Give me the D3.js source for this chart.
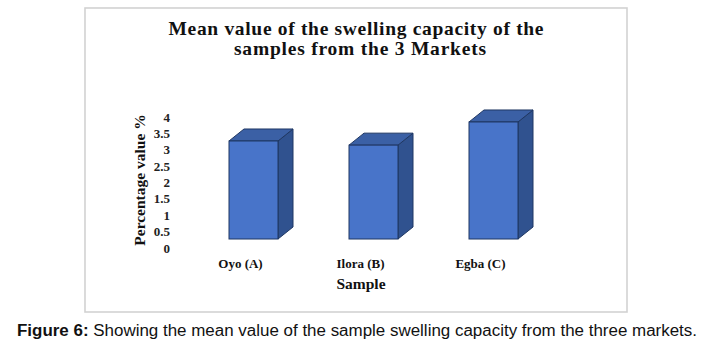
<!DOCTYPE html>
<html>
<head>
<meta charset="utf-8">
<script src="https://cdn.jsdelivr.net/npm/d3@7"></script>
<style>
  body { margin: 0; background: #fff; }
  svg { display: block; }
</style>
</head>
<body>
<div id="vis"></div>
<script>
// data
var samples = ['Oyo (A)', 'Ilora (B)', 'Egba (C)'];
var meanValues = [3.3, 3.16, 3.94];
var tickValues = [0, 0.5, 1, 1.5, 2, 2.5, 3, 3.5, 4];

var width = 707,
	height = 352;

// 3D depth of each column (Excel style)
var depthX = 15,
	depthY = 12,
	barWidth = 49;

var svg = d3.select('#vis').append('svg')
	.attr('width', width)
	.attr('height', height);

// chart frame
svg.append('rect')
	.attr('x', 85).attr('y', 8)
	.attr('width', 542).attr('height', 304)
	.attr('fill', 'none')
	.attr('stroke', '#d2d2d2')
	.attr('stroke-width', 1.6);

var serif = '"Liberation Serif", "Times New Roman", serif';

// title
var title = svg.append('g')
	.attr('font-family', serif)
	.attr('font-weight', 'bold')
	.attr('font-size', 19.5)
	.attr('fill', '#111')
	.attr('text-anchor', 'middle');
title.append('text').attr('x', 356).attr('y', 35)
	.attr('textLength', 375).attr('lengthAdjust', 'spacing')
	.text('Mean value of the swelling capacity of the');
title.append('text').attr('x', 360).attr('y', 55)
	.attr('textLength', 252).attr('lengthAdjust', 'spacing')
	.text('samples from the 3 Markets');

// scales: bars sit on the front floor, tick labels on the back wall
var x = d3.scalePoint()
	.domain(samples)
	.range([253.5, 493.5]);

var y = d3.scaleLinear()
	.domain([0, 4])
	.range([239, 239 - 4 * 29.7]);

var yLabels = d3.scaleLinear()
	.domain([0, 4])
	.range([248, 117]);

// y tick labels
svg.append('g')
	.selectAll('text')
	.data(tickValues)
	.enter()
	.append('text')
	.attr('x', 170)
	.attr('y', function(d) { return yLabels(d); })
	.attr('dy', '0.35em')
	.attr('text-anchor', 'end')
	.attr('font-family', serif)
	.attr('font-weight', 'bold')
	.attr('font-size', 13)
	.attr('fill', '#222')
	.text(function(d) { return d; });

// y axis title
svg.append('text')
	.attr('transform', 'translate(145,180) rotate(-90)')
	.attr('text-anchor', 'middle')
	.attr('font-family', serif)
	.attr('font-weight', 'bold')
	.attr('font-size', 15.5)
	.attr('fill', '#111')
	.text('Percentage value %');

// columns
var bars = svg.append('g')
	.selectAll('g')
	.data(samples.map(function(s, i) { return { name: s, value: meanValues[i] }; }))
	.enter()
	.append('g');

function pts(arr) {
	return arr.map(function(p) { return p.join(','); }).join(' ');
}

// side face
bars.append('polygon')
	.attr('points', function(d) {
		var x1 = x(d.name) + barWidth / 2, t = y(d.value), b = y(0);
		return pts([[x1, t], [x1 + depthX, t - depthY], [x1 + depthX, b - depthY], [x1, b]]);
	})
	.attr('fill', '#30528f')
	.attr('stroke', '#1f3763')
	.attr('stroke-width', 1);

// top face
bars.append('polygon')
	.attr('points', function(d) {
		var x0 = x(d.name) - barWidth / 2, t = y(d.value);
		return pts([[x0, t], [x0 + depthX, t - depthY], [x0 + barWidth + depthX, t - depthY], [x0 + barWidth, t]]);
	})
	.attr('fill', '#3b60a5')
	.attr('stroke', '#1f3763')
	.attr('stroke-width', 1);

// front face
bars.append('rect')
	.attr('x', function(d) { return x(d.name) - barWidth / 2; })
	.attr('y', function(d) { return y(d.value); })
	.attr('width', barWidth)
	.attr('height', function(d) { return y(0) - y(d.value); })
	.attr('fill', '#4874c9')
	.attr('stroke', '#1f3763')
	.attr('stroke-width', 1);

// category labels
svg.append('g')
	.selectAll('text')
	.data(samples)
	.enter()
	.append('text')
	.attr('x', function(d) { return x(d) - 13; })
	.attr('y', 268)
	.attr('text-anchor', 'middle')
	.attr('font-family', serif)
	.attr('font-weight', 'bold')
	.attr('font-size', 13)
	.attr('fill', '#111')
	.text(function(d) { return d; });

// x axis title
svg.append('text')
	.attr('x', 361).attr('y', 289)
	.attr('text-anchor', 'middle')
	.attr('font-family', serif)
	.attr('font-weight', 'bold')
	.attr('font-size', 15.5)
	.attr('fill', '#111')
	.text('Sample');

// figure caption
var cap = svg.append('text')
	.attr('x', 17).attr('y', 336)
	.attr('textLength', 680).attr('lengthAdjust', 'spacingAndGlyphs')
	.attr('font-family', '"Liberation Sans", Arial, sans-serif')
	.attr('font-size', 16)
	.attr('fill', '#111');
cap.append('tspan').attr('font-weight', 'bold').text('Figure 6:');
cap.append('tspan').text(' Showing the mean value of the sample swelling capacity from the three markets.');
</script>
</body>
</html>
